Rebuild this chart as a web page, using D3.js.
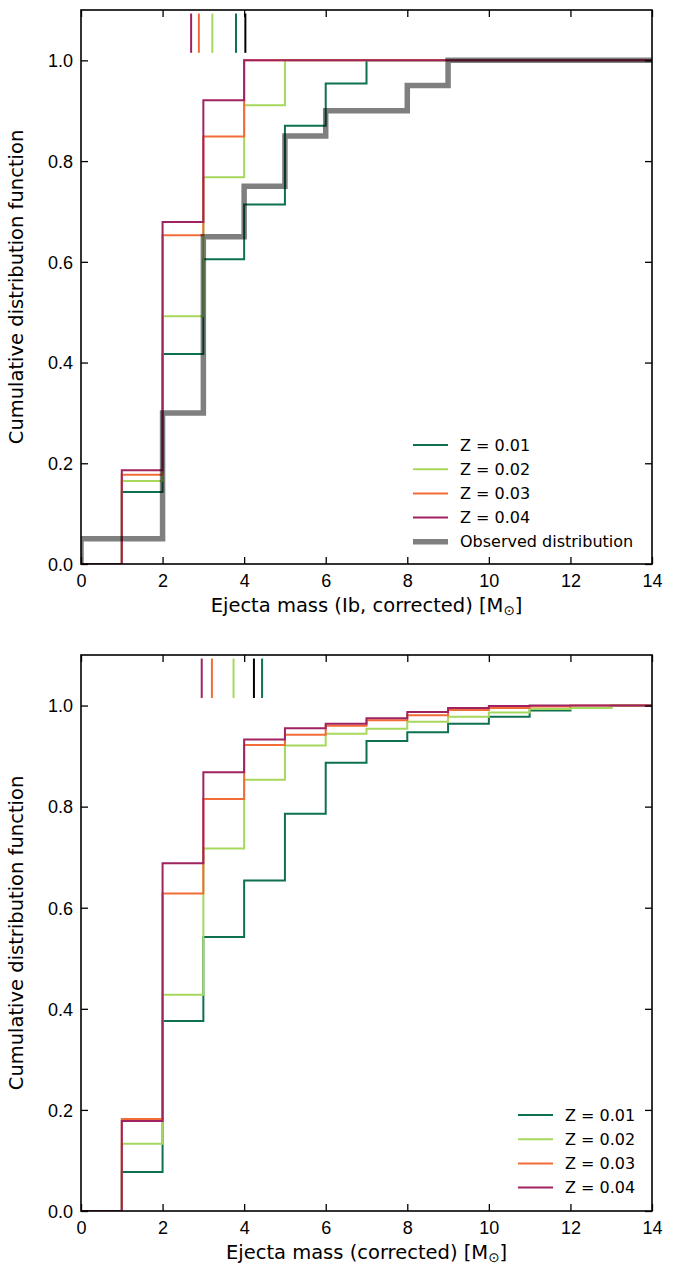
<!DOCTYPE html>
<html>
<head>
<meta charset="utf-8">
<script src="https://cdn.jsdelivr.net/npm/d3@7/dist/d3.min.js"></script>
<style>
  body { margin: 0; background: #fff; }
  svg { display: block; font-family: "DejaVu Sans", sans-serif; }
</style>
</head>
<body>
<svg id="chart" width="686" height="1265"></svg>
<script>
// bins are 1 M_sun wide, starting at 0; one value per bin (0-1, 1-2, ... 13-14)
const binEdges = d3.range(0, 15)
const seriesNames = ["Z = 0.01", "Z = 0.02", "Z = 0.03", "Z = 0.04"]
const seriesColors = ["#0d7150", "#a6d85e", "#f26c3a", "#9e2360"]

// top panel: Ib, corrected
const ibZ01 = [0, 0.143, 0.417, 0.605, 0.714, 0.870, 0.954, 1, 1, 1, 1, 1, 1, 1]
const ibZ02 = [0, 0.165, 0.492, 0.768, 0.911, 1, 1, 1, 1, 1, 1, 1, 1, 1]
const ibZ03 = [0, 0.177, 0.653, 0.849, 1, 1, 1, 1, 1, 1, 1, 1, 1, 1]
const ibZ04 = [0, 0.186, 0.679, 0.921, 1, 1, 1, 1, 1, 1, 1, 1, 1, 1]
const ibObserved = [0.05, 0.05, 0.30, 0.65, 0.75, 0.85, 0.90, 0.90, 0.95, 1, 1, 1, 1, 1]
const ibMarks = [3.80, 3.22, 2.89, 2.70]   // Z01..Z04
const ibObservedMark = 4.03

// bottom panel: all, corrected
const allZ01 = [0, 0.077, 0.376, 0.542, 0.654, 0.786, 0.887, 0.930, 0.947, 0.964, 0.978, 0.990, 0.995, 1]
const allZ02 = [0, 0.133, 0.428, 0.717, 0.853, 0.921, 0.944, 0.954, 0.968, 0.978, 0.986, 0.993, 0.995, 1]
const allZ03 = [0, 0.182, 0.628, 0.815, 0.922, 0.942, 0.960, 0.971, 0.981, 0.991, 0.995, 0.998, 1, 1]
const allZ04 = [0, 0.178, 0.688, 0.868, 0.933, 0.955, 0.964, 0.975, 0.987, 0.995, 0.999, 1, 1, 1]
const allMarks = [4.44, 3.74, 3.21, 2.96]
const allObservedMark = 4.24

const xTicks = [0, 2, 4, 6, 8, 10, 12, 14]
const yTicks = [0, 0.2, 0.4, 0.6, 0.8, 1.0]

const svg = d3.select("#chart")
const margin = { left: 81, right: 34 }
const width = 686 - margin.left - margin.right

function drawPanel(top, height, series, observed, marks, observedMark, labelText, legendX, legendY, id) {

    const g = svg.append("g").attr("transform", `translate(${margin.left},${top})`)

    const x = d3.scaleLinear().domain([0, 14]).range([0, width])
    const y = d3.scaleLinear().domain([0, 1.1]).range([height, 0])

    g.append("clipPath").attr("id", id)
        .append("rect").attr("width", width).attr("height", height)

    // step line: start on the axis, then one level per bin
    const stepLine = d3.line()
        .x(d => x(d[0]))
        .y(d => y(d[1]))
        .curve(d3.curveStepAfter)
    const toPoints = vals => [[0, 0]].concat(vals.map((v, i) => [binEdges[i], v]), [[14, vals[vals.length - 1]]])

    const plot = g.append("g").attr("clip-path", `url(#${id})`)

    series.forEach((vals, i) => {
        plot.append("path")
            .attr("d", stepLine(toPoints(vals)))
            .attr("fill", "none")
            .attr("stroke", seriesColors[i])
            .attr("stroke-width", 2)
    })

    if (observed) {
        plot.append("path")
            .attr("d", stepLine(toPoints(observed)))
            .attr("fill", "none")
            .attr("stroke", "#000")
            .attr("stroke-opacity", 0.5)
            .attr("stroke-width", 5.5)
    }

    // short vertical marks at the top
    const markData = marks.map((m, i) => ({ v: m, c: seriesColors[i] }))
        .concat([{ v: observedMark, c: "#000" }])
    plot.selectAll(".mark")
        .data(markData)
        .enter().append("line")
        .attr("x1", d => x(d.v)).attr("x2", d => x(d.v))
        .attr("y1", y(1.015)).attr("y2", y(1.093))
        .attr("stroke", d => d.c)
        .attr("stroke-width", 2)

    // axes, ticks inward on all four sides
    const tickLen = 7
    const xAxis = g.append("g").attr("transform", `translate(0,${height})`)
        .call(d3.axisBottom(x).tickValues(xTicks).tickSizeInner(-tickLen).tickSizeOuter(0).tickPadding(10))
    const yAxis = g.append("g")
        .call(d3.axisLeft(y).tickValues(yTicks).tickFormat(d3.format(".1f")).tickSizeInner(-tickLen).tickSizeOuter(0).tickPadding(8))
    const xTop = g.append("g")
        .call(d3.axisTop(x).tickValues(xTicks).tickSizeInner(-tickLen).tickSizeOuter(0).tickFormat(""))
    const yRight = g.append("g").attr("transform", `translate(${width},0)`)
        .call(d3.axisRight(y).tickValues(yTicks).tickSizeInner(-tickLen).tickSizeOuter(0).tickFormat(""))

    ;[xAxis, yAxis, xTop, yRight].forEach(a => {
        a.select(".domain").remove()
        a.selectAll(".tick line").attr("stroke", "#000").attr("stroke-width", 1.3)
        a.selectAll(".tick text").attr("fill", "#000").style("font-size", "18px")
    })
    xAxis.selectAll(".tick text").attr("dy", "0.71em")
    yAxis.selectAll(".tick text").attr("dy", "0.35em")

    g.append("rect")
        .attr("width", width).attr("height", height)
        .attr("fill", "none").attr("stroke", "#000").attr("stroke-width", 1.6)

    // axis labels
    const xl = g.append("text")
        .attr("x", width / 2).attr("y", height + 48)
        .attr("text-anchor", "middle")
        .style("font-size", "19.5px")
        .text(labelText + " [M")
    xl.append("tspan").attr("dy", 3).style("font-size", "13.5px").text("\u2299")
    xl.append("tspan").attr("dy", -3).text("]")

    g.append("text")
        .attr("transform", `translate(${-58},${height / 2}) rotate(-90)`)
        .attr("text-anchor", "middle")
        .style("font-size", "19.5px")
        .text("Cumulative distribution function")

    // legend
    const entries = seriesNames.map((n, i) => ({ name: n, color: seriesColors[i], w: 2, o: 1 }))
    if (observed) entries.push({ name: "Observed distribution", color: "#000", w: 5.5, o: 0.5 })
    const leg = g.append("g").attr("transform", `translate(${legendX},${legendY})`)
    const rows = leg.selectAll(".row").data(entries).enter().append("g")
        .attr("transform", (d, i) => `translate(0,${i * 24.2})`)
    rows.append("line")
        .attr("x1", 0).attr("x2", 35)
        .attr("stroke", d => d.color)
        .attr("stroke-width", d => d.w)
        .attr("stroke-opacity", d => d.o)
    rows.append("text")
        .attr("x", 47).attr("dy", "0.35em")
        .style("font-size", "16px")
        .text(d => d.name)
}

drawPanel(10, 554, [ibZ01, ibZ02, ibZ03, ibZ04], ibObserved, ibMarks, ibObservedMark,
    "Ejecta mass (Ib, corrected)", 332, 435, "clipTop")
drawPanel(655, 556, [allZ01, allZ02, allZ03, allZ04], null, allMarks, allObservedMark,
    "Ejecta mass (corrected)", 437, 460, "clipBottom")
</script>
</body>
</html>
